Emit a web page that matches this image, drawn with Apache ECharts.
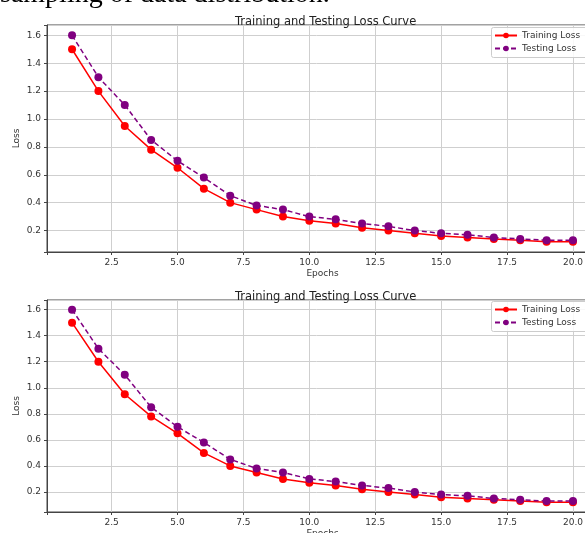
<!DOCTYPE html>
<html>
<head>
<meta charset="utf-8">
<script src="https://cdn.jsdelivr.net/npm/echarts@6/dist/echarts.min.js"></script>
<style>
  html, body { margin: 0; padding: 0; background: #fff; }
  #chart { width: 585px; height: 533px; }
</style>
</head>
<body>
<div id="chart"></div>
<script>
//数据
var epochs = [1, 2, 3, 4, 5, 6, 7, 8, 9, 10, 11, 12, 13, 14, 15, 16, 17, 18, 19, 20];
var trainLoss = [1.5, 1.2, 0.95, 0.78, 0.65, 0.5, 0.4, 0.35, 0.3, 0.27, 0.25, 0.22, 0.2, 0.18, 0.16, 0.15, 0.14, 0.13, 0.12, 0.12];
var testLoss = [1.6, 1.3, 1.1, 0.85, 0.7, 0.58, 0.45, 0.38, 0.35, 0.3, 0.28, 0.25, 0.23, 0.2, 0.18, 0.17, 0.15, 0.14, 0.13, 0.13];
var titleText = 'Training and Testing Loss Curve';
var headerText = 'sampling of data distribution.';

var font = 'DejaVu Sans';
var chart = echarts.init(document.getElementById('chart'));

function pairs(ys) {
    return epochs.map(function (x, i) { return [x, ys[i]]; });
}

//x轴
function makeX(gi) {
    return {
        type: 'value', gridIndex: gi,
        min: 0.05, max: 20.95, minInterval: 2.5, maxInterval: 2.5,
        name: 'Epochs', nameLocation: 'middle', nameGap: 17,
        nameTextStyle: { fontFamily: font, fontSize: 9, color: '#333' },
        axisLine: { lineStyle: { color: '#444', width: 1 } },
        axisTick: { length: 3, lineStyle: { color: '#444' } },
        axisLabel: {
            fontFamily: font, fontSize: 9, color: '#333', margin: 6,
            formatter: function (v) {
                return (Math.abs(v / 2.5 - Math.round(v / 2.5)) < 1e-6) ? v.toFixed(1) : '';
            }
        },
        splitLine: { show: true, lineStyle: { color: '#cfcfcf', width: 1 } }
    };
}
//y轴
function makeY(gi) {
    return {
        type: 'value', gridIndex: gi,
        min: 0.046, max: 1.674, minInterval: 0.2, maxInterval: 0.2,
        name: 'Loss', nameLocation: 'middle', nameGap: 26, nameMoveOverlap: false,
        nameTextStyle: { fontFamily: font, fontSize: 9, color: '#333' },
        axisLine: { show: true, lineStyle: { color: '#444', width: 1 } },
        axisTick: { show: true, length: 3, lineStyle: { color: '#444' } },
        axisLabel: {
            fontFamily: font, fontSize: 9, color: '#333', margin: 6,
            formatter: function (v) {
                return (Math.abs(v / 0.2 - Math.round(v / 0.2)) < 1e-6) ? v.toFixed(1) : '';
            }
        },
        splitLine: { show: true, lineStyle: { color: '#cfcfcf', width: 1 } }
    };
}
function makeSeries(gi) {
    return [{
        name: 'Training Loss', type: 'line', xAxisIndex: gi, yAxisIndex: gi,
        data: pairs(trainLoss), symbol: 'circle', symbolSize: 8,
        itemStyle: { color: '#ff0000' },
        lineStyle: { color: '#ff0000', width: 1.5 }
    }, {
        name: 'Testing Loss', type: 'line', xAxisIndex: gi, yAxisIndex: gi,
        data: pairs(testLoss), symbol: 'circle', symbolSize: 8,
        itemStyle: { color: '#800080' },
        lineStyle: { color: '#800080', width: 1.5, type: [5, 3] }
    }];
}
function makeLegend(top) {
    return {
        orient: 'vertical', left: 494, top: top,
        itemWidth: 22, itemHeight: 7, itemGap: 4,
        padding: 0,
        textStyle: { fontFamily: font, fontSize: 9, color: '#333' },
        data: ['Training Loss', 'Testing Loss']
    };
}
//图例边框
function legendFrame(y) {
    return {
        type: 'rect', left: 491, top: y, z: 3,
        shape: { width: 120, height: 30, r: 2 },
        style: { fill: 'rgba(255,255,255,0.85)', stroke: '#ccc', lineWidth: 1 }
    };
}

var option = {
    animation: false,
    title: [
        { text: titleText, left: 230, top: 11, textStyle: { fontFamily: font, fontSize: 11.5, fontWeight: 'normal', color: '#222' } },
        { text: titleText, left: 230, top: 286, textStyle: { fontFamily: font, fontSize: 11.5, fontWeight: 'normal', color: '#222' } }
    ],
    legend: [makeLegend(31), makeLegend(305)],
    grid: [
        { left: 47, top: 25, width: 551, height: 227, outerBoundsMode: 'none', show: true, borderColor: '#444', borderWidth: 1, backgroundColor: 'transparent' },
        { left: 47, top: 300, width: 551, height: 212, outerBoundsMode: 'none', show: true, borderColor: '#444', borderWidth: 1, backgroundColor: 'transparent' }
    ],
    xAxis: [makeX(0), makeX(1)],
    yAxis: [makeY(0), makeY(1)],
    series: makeSeries(0).concat(makeSeries(1)),
    graphic: [{
        type: 'text', left: 0, top: -19,
        style: { text: headerText, font: '28px "Liberation Serif"', fill: '#000' }
    }, legendFrame(27), legendFrame(301)]
};
chart.setOption(option);
</script>
</body>
</html>
